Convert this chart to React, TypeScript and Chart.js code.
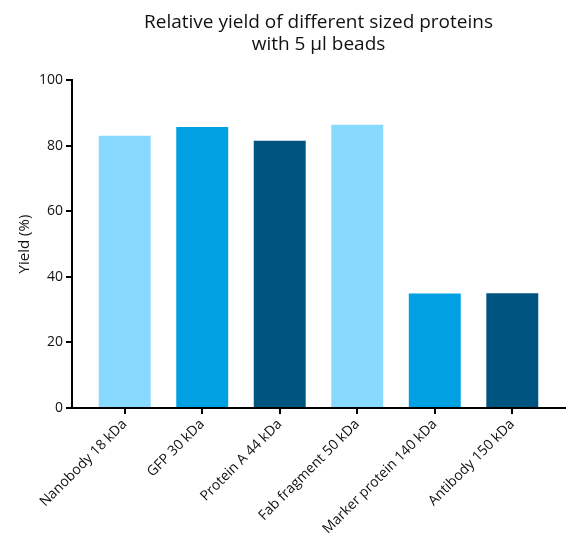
import React, { useEffect, useRef } from 'react';
import Chart from 'chart.js/auto';

// categories and values
const proteins = [
  'Nanobody 18 kDa',
  'GFP 30 kDa',
  'Protein A 44 kDa',
  'Fab fragment 50 kDa',
  'Marker protein 140 kDa',
  'Antibody 150 kDa',
];
const yields = [83, 85.7, 81.5, 86.4, 34.9, 35];
const barColors = ['#87d9fe', '#00a0e3', '#005480', '#87d9fe', '#00a0e3', '#005480'];
const yTicks = [0, 20, 40, 60, 80, 100];

const FONT = '"Open Sans", "Noto Sans", sans-serif';

const YieldChart = () => {
  const chartRef = useRef<HTMLCanvasElement>(null);
  const chartInstanceRef = useRef<Chart>();

  useEffect(() => {
    if (!chartRef.current) return;
    const ctx = chartRef.current.getContext('2d');
    if (!ctx) return;
    if (chartInstanceRef.current) chartInstanceRef.current.destroy();

    chartInstanceRef.current = new Chart(ctx, {
      type: 'bar',
      data: {
        datasets: [
          {
            label: 'Yield',
            data: proteins.map((_, i) => ({ x: i, y: yields[i] })),
            backgroundColor: barColors,
            borderWidth: 0,
            categoryPercentage: 1,
            barPercentage: 0.67,
          },
        ],
      },
      options: {
        animation: false,
        responsive: true,
        maintainAspectRatio: false,
        layout: { padding: { right: 9 } },
        plugins: {
          legend: { display: false },
          tooltip: { enabled: false },
          title: {
            display: true,
            fullSize: false, // centred over the plot area, like the reference
            text: ['Relative yield of different sized proteins', 'with 5 µl beads'],
            color: '#111',
            font: { family: FONT, size: 19, weight: 'normal', lineHeight: 1.16 },
            padding: { top: 12, bottom: 24 },
          },
        },
        scales: {
          x: {
            type: 'linear',
            min: -0.68,
            max: 5.68,
            offset: false,
            afterFit: (scale: any) => {
              scale.height = 146;
            },
            border: { display: true, color: '#000', width: 2 },
            grid: {
              offset: false,
              drawOnChartArea: false,
              drawTicks: true,
              tickLength: 6,
              color: '#000',
              lineWidth: 2,
            },
            ticks: {
              stepSize: 1,
              includeBounds: false,
              autoSkip: false,
              minRotation: 45,
              maxRotation: 45,
              padding: 2,
              color: '#111',
              font: { family: FONT, size: 14 },
              callback: (v: any) => (Number.isInteger(v) ? proteins[v] : ''),
            },
          },
          y: {
            min: 0,
            max: 100,
            afterFit: (scale: any) => {
              scale.width = 72;
            },
            afterBuildTicks: (scale: any) => {
              scale.ticks = yTicks.map((v) => ({ value: v }));
            },
            border: { display: true, color: '#000', width: 2 },
            grid: { drawOnChartArea: false, drawTicks: true, tickLength: 6, color: '#000', lineWidth: 2 },
            ticks: {
              padding: 3,
              color: '#111',
              font: { family: FONT, size: 14 },
            },
            title: {
              display: true,
              text: 'Yield (%)',
              color: '#111',
              font: { family: FONT, size: 15 },
              padding: { top: 16, bottom: 0 },
            },
          },
        },
      },
    });

    return () => {
      if (chartInstanceRef.current) {
        chartInstanceRef.current.destroy();
        chartInstanceRef.current = undefined;
      }
    };
  }, []);

  return (
    <div style={{ position: 'absolute', left: 0, top: 0, width: 574, height: 554, background: '#fff' }}>
      <canvas ref={chartRef} />
    </div>
  );
};

export default function App() {
  return <YieldChart />;
}
